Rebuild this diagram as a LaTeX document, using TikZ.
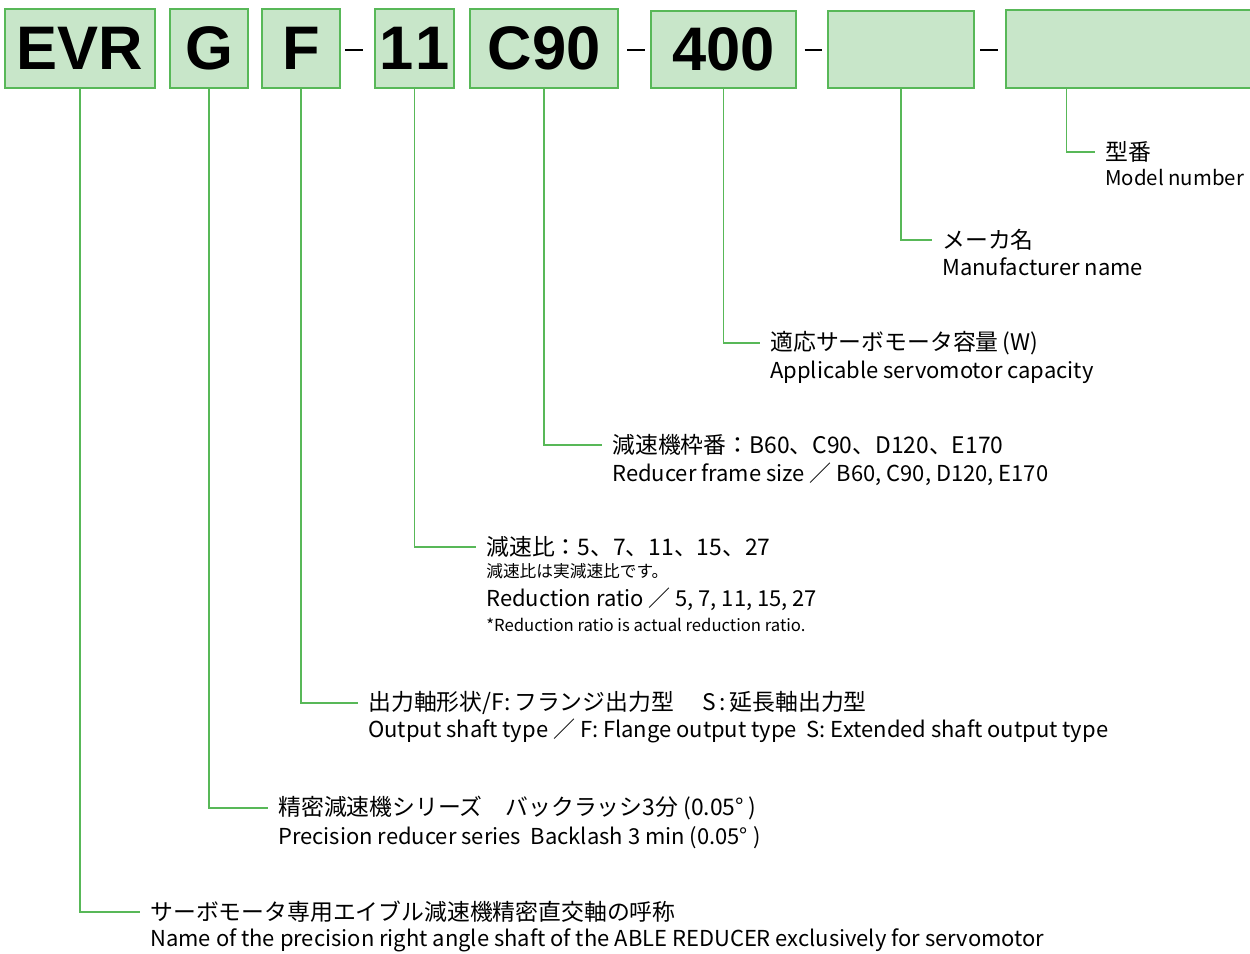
\documentclass[tikz,border=0pt]{standalone}
\usepackage{fontspec}
\setmainfont{Noto Sans CJK JP}
\newfontfamily\codefont{Liberation Sans}
\usepackage{tikz}
\usetikzlibrary{
    positioning,
    calc
}
\definecolor{codefill}{RGB}{200,230,201}
\definecolor{codeline}{RGB}{88,184,88}

\begin{document}
\begin{tikzpicture}[
x=0.02cm, y=-0.02cm,
code/.style={
draw=codeline,
fill=codefill,
line width=1.1pt,
minimum height=1.58cm,
inner sep=0pt,
font=\codefont\bfseries\fontsize{35}{35}\selectfont
},
dashbar/.style={
inner sep=0pt
},
jp/.style={
anchor=west,
inner xsep=0.2cm,
inner ysep=0pt,
font=\fontsize{13}{15}\selectfont
},
en/.style={
inner xsep=0.2cm,
inner ysep=0pt,
font=\fontsize{12.5}{15}\selectfont
},
note/.style={
inner xsep=0.2cm,
inner ysep=0pt,
font=\fontsize{9.5}{11}\selectfont
},
lead/.style={
draw=codeline,
line width=0.9pt
}
]

\useasboundingbox (0,0) rectangle (1250,953);

% code boxes
\node[code, minimum width=3cm] (evr) at (80,48.5) {EVR};
\node[code, minimum width=1.56cm] (ser) at (209,48.5) {G};
\node[code, minimum width=1.56cm] (shaft) at (301,48.5) {F};
\node[code, minimum width=1.58cm] (ratio) at (414.5,48.5) {1\kern1pt1};
\node[code, minimum width=2.96cm] (frame) at (544,48.5) {C90};
\node[code, minimum width=2.9cm, minimum height=1.54cm] (motor) at (723.5,49.5) {400};
\node[code, minimum width=2.92cm, minimum height=1.54cm] (maker) at (901,49.5) {};
\node[code, minimum width=5.1cm, minimum height=1.56cm] (model) at (1133,49) {};

\node[dashbar] (d1) at (354,50) {\rule{10pt}{1.7pt}};
\node[dashbar] (d2) at (636,50) {\rule{10pt}{1.7pt}};
\node[dashbar] (d3) at (813.5,50) {\rule{10pt}{1.7pt}};
\node[dashbar] (d4) at (989,50) {\rule{10pt}{1.7pt}};

% labels
\node[jp] (model-jp) at (1095,152) {型番};
\node[en, below=0.52cm of model-jp.west, anchor=west,
font=\fontsize{11.6}{15}\selectfont] (model-en)
{Model number};

\node[jp] (maker-jp) at (932,240) {メーカ名};
\node[en, below=0.54cm of maker-jp.west, anchor=west] (maker-en)
{Manufacturer name};

\node[jp] (motor-jp) at (760,343) {適応サーボモータ容量\,(W)};
\node[en, below=0.58cm of motor-jp.west, anchor=west] (motor-en)
{Applicable servomotor capacity};

\node[jp] (frame-jp) at (602,445) {減速機枠番：B60、C90、D120、E170};
\node[en, below=0.58cm of frame-jp.west, anchor=west] (frame-en)
{Reducer frame size ／ B60, C90, D120, E170};

\node[jp] (ratio-jp) at (476,547) {減速比：5、7、11、15、27};
\node[note, below=0.48cm of ratio-jp.west, anchor=west] (ratio-note)
{減速比は実減速比です。};
\node[en, below=0.56cm of ratio-note.west, anchor=west] (ratio-en)
{Reduction ratio ／ 5, 7, 11, 15, 27};
\node[note, below=0.52cm of ratio-en.west, anchor=west] (ratio-enote)
{*Reduction ratio is actual reduction ratio.};

\node[jp] (shaft-jp) at (358,703) {出力軸形状/F:\,フランジ出力型\quad\ S\,:\,延長軸出力型};
\node[en, below=0.56cm of shaft-jp.west, anchor=west] (shaft-en)
{Output shaft type ／ F: Flange output type\ \ S: Extended shaft output type};

\node[jp] (ser-jp) at (268,808) {精密減速機シリーズ　バックラッシ3分 (0.05° )};
\node[en, below=0.6cm of ser-jp.west, anchor=west] (ser-en)
{Precision reducer series\ \ Backlash 3 min (0.05° )};

\node[jp] (evr-jp) at (140,912) {サーボモータ専用エイブル減速機精密直交軸の呼称};
\node[en, below=0.56cm of evr-jp.west, anchor=west] (evr-en)
{Name of the precision right angle shaft of the ABLE REDUCER exclusively for servomotor};

% leaders
\draw[lead] (model.south west) ++(62,0) |- (model-jp.west);
\draw[lead] (maker.south) |- (maker-jp.west);
\draw[lead] (motor.south) |- (motor-jp.west);
\draw[lead] (frame.south) |- (frame-jp.west);
\draw[lead] (ratio.south) |- (ratio-jp.west);
\draw[lead] (shaft.south) |- (shaft-jp.west);
\draw[lead] (ser.south) |- (ser-jp.west);
\draw[lead] (evr.south) |- (evr-jp.west);

\end{tikzpicture}
\end{document}
